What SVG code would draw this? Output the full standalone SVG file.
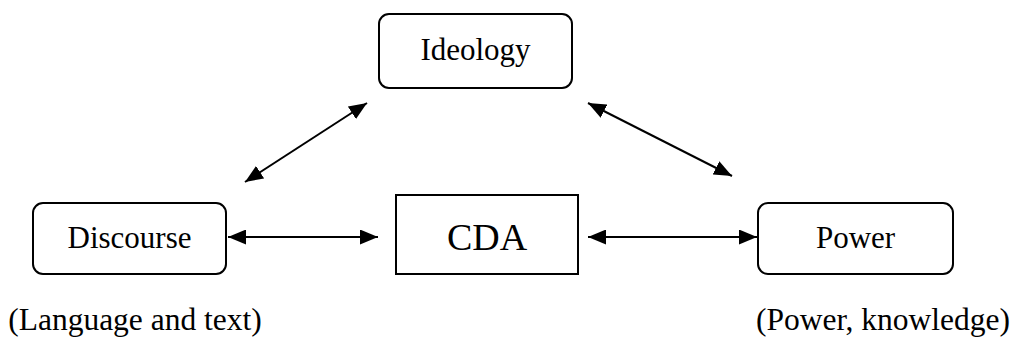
<svg xmlns="http://www.w3.org/2000/svg" width="1015" height="339" viewBox="0 0 1015 339">
<style>
.box{fill:#fff;stroke:#000;stroke-width:2}
.t{font-family:"Liberation Serif","Times New Roman",serif;fill:#000;text-anchor:middle}
.c{stroke:#000;stroke-width:2;fill:none;marker-start:url(#ah);marker-end:url(#ah)}
</style>
<defs>
<marker id="ah" viewBox="0 0 10 10" refX="10" refY="5" markerWidth="9" markerHeight="7.5" markerUnits="strokeWidth" orient="auto-start-reverse" preserveAspectRatio="none">
<path d="M0,0 L10,5 L0,10 z" fill="#000"/>
</marker>
</defs>
<rect width="1015" height="339" fill="#fff"/>
<g id="ideology">
<rect class="box" x="379" y="14" width="193" height="74" rx="10"/>
<text class="t" x="475.5" y="60" font-size="31">Ideology</text>
</g>
<g id="discourse">
<rect class="box" x="33" y="203" width="193" height="71" rx="10"/>
<text class="t" x="129.5" y="248" font-size="31">Discourse</text>
</g>
<g id="cda">
<rect class="box" x="396" y="195" width="182" height="79"/>
<text class="t" x="487" y="250" font-size="38">CDA</text>
</g>
<g id="power">
<rect class="box" x="758" y="203" width="195" height="71" rx="10"/>
<text class="t" x="855.5" y="248" font-size="31">Power</text>
</g>
<g id="labels">
<text class="t" x="135" y="330" font-size="31.5">(Language and text)</text>
<text class="t" x="883" y="330" font-size="31.5">(Power, knowledge)</text>
</g>
<g id="connectors">
<line class="c" x1="228" y1="237" x2="378" y2="237"/>
<line class="c" x1="588" y1="237" x2="757" y2="237"/>
<line class="c" x1="245" y1="182" x2="367" y2="103"/>
<line class="c" x1="588" y1="103" x2="732" y2="176"/>
</g>
</svg>
